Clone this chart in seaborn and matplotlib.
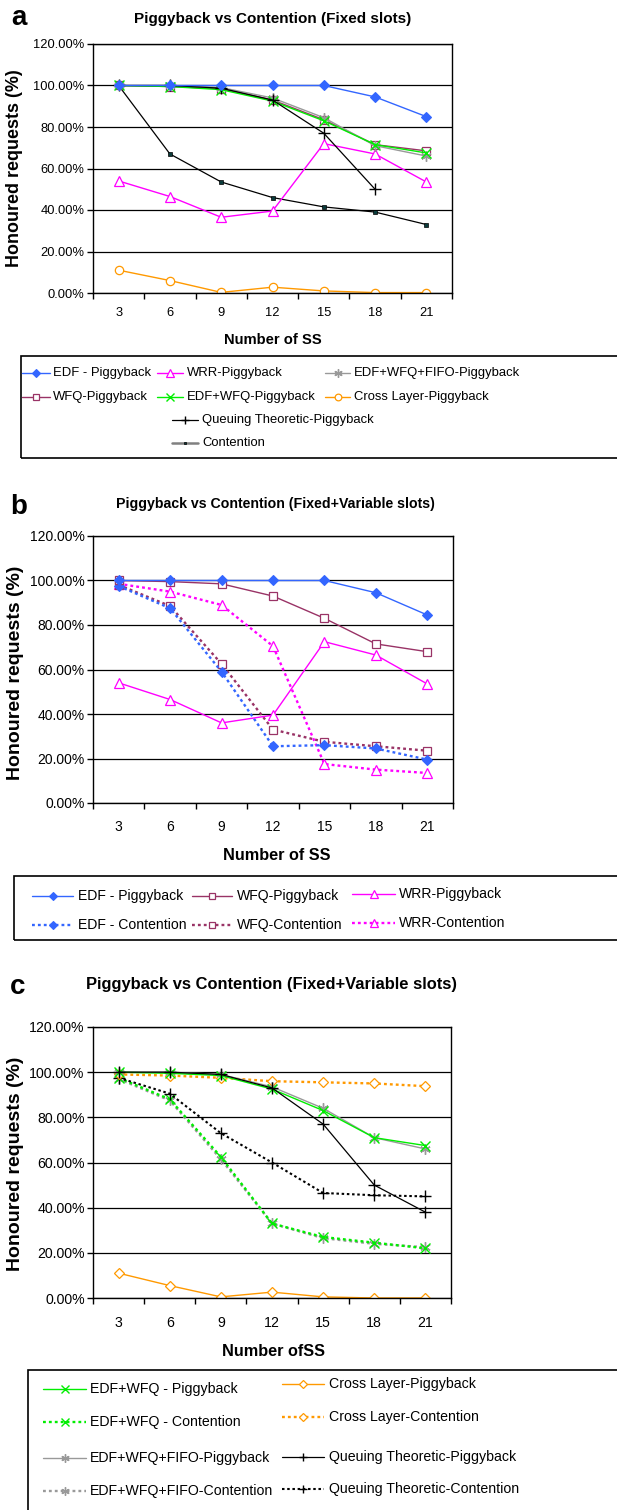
import numpy as np
import matplotlib
matplotlib.use("Agg")
import matplotlib.pyplot as plt
from matplotlib.lines import Line2D
from matplotlib.patches import Rectangle
import seaborn as sns

# ---------------- data ----------------
ss_labels = ["3", "6", "9", "12", "15", "18", "21"]
y_ticks = [0, 20, 40, 60, 80, 100, 120]
y_tick_labels = ["0.00%", "20.00%", "40.00%", "60.00%", "80.00%", "100.00%", "120.00%"]

# Panel a: Piggyback vs Contention (Fixed slots)
a_edf_pb = [100, 100, 100, 100, 100, 94.5, 85]
a_wrr_pb = [54, 46.5, 36.5, 39.5, 72, 67, 53.5]
a_wfq_pb = [100, 99.5, 98.5, 93, 83.5, 71.5, 68.5]
a_edfwfq_pb = [100, 99.5, 98, 92.5, 83, 71.5, 67.5]
a_fifo_pb = [100, 100, 99, 94, 84.5, 71, 66]
a_cross_pb = [11, 6, 0.3, 2.8, 1, 0.2, 0.2]
a_queue_pb = [100, 100, 98.7, 93, 77, 50, np.nan]
a_contention = [100, 67, 53.5, 46, 41.5, 39, 33]

# Panel b: Piggyback vs Contention (Fixed+Variable slots)
b_edf_pb = [100, 100, 100, 100, 100, 94.5, 84.5]
b_wfq_pb = [100, 99.5, 98.5, 93, 83, 71.5, 68]
b_wrr_pb = [54, 46.5, 36, 39.5, 72.5, 66.5, 53.5]
b_edf_ct = [97.5, 87.5, 59, 25.5, 26, 24.5, 19.5]
b_wfq_ct = [98, 88.5, 62.5, 33, 27.5, 25.5, 23.5]
b_wrr_ct = [98.5, 95, 89, 70.5, 17.5, 15, 13.5]

# Panel c: Piggyback vs Contention (Fixed+Variable slots)
c_edfwfq_pb = [100, 99.5, 98.5, 92.5, 83, 71, 67.5]
c_edfwfq_ct = [97.5, 88, 62.5, 33, 27, 24.5, 22]
c_fifo_pb = [100, 100, 99, 93.5, 84, 71, 66]
c_fifo_ct = [97, 87.5, 61.5, 33, 26.5, 24, 22.5]
c_cross_pb = [11, 5.5, 0.5, 2.6, 0.5, 0, 0]
c_cross_ct = [99, 98.5, 97.5, 96, 95.5, 95, 93.8]
c_queue_pb = [100, 100, 99, 93, 77, 50, 38]
c_queue_ct = [97.5, 90.5, 73, 60, 46.5, 45.5, 45]

# ---------------- styles ----------------
BLUE, PLUM, MAG, GREEN, GRAY, ORANGE = "#3366FF", "#993366", "#FF00FF", "#00EE00", "#999999", "#FF9900"
AST = (6, 2, 0)
DOT = (0, (1.2, 1.3))
STY = {
    "EDF - Piggyback": dict(color=BLUE, marker="D", ms=5.5, mfc=BLUE, ls="-", lw=1.0, mew=0.8),
    "WRR-Piggyback": dict(color=MAG, marker="^", ms=7, mfc="white", ls="-", lw=1.0, mew=0.9),
    "WFQ-Piggyback": dict(color=PLUM, marker="s", ms=5.5, mfc="white", ls="-", lw=1.0, mew=0.9),
    "EDF+WFQ-Piggyback": dict(color=GREEN, marker="x", ms=6.5, mfc="none", ls="-", lw=1.0, mew=1.0),
    "EDF+WFQ+FIFO-Piggyback": dict(color=GRAY, marker=AST, ms=7.5, mfc="none", ls="-", lw=1.0, mew=1.0),
    "Cross Layer-Piggyback": dict(color=ORANGE, marker="o", ms=6, mfc="white", ls="-", lw=1.0, mew=0.9),
    "Queuing Theoretic-Piggyback": dict(color="black", marker="+", ms=8, mfc="none", ls="-", lw=0.9, mew=1.0),
    "Contention": dict(color="black", marker="s", ms=2.5, mfc="#0B3B3B", ls="-", lw=0.9, mew=0.5),
    "EDF - Contention": dict(color=BLUE, marker="D", ms=5.5, mfc=BLUE, ls=DOT, lw=1.7, mew=0.8),
    "WFQ-Contention": dict(color=PLUM, marker="s", ms=5.5, mfc="white", ls=DOT, lw=1.7, mew=0.9),
    "WRR-Contention": dict(color=MAG, marker="^", ms=7, mfc="white", ls=DOT, lw=1.7, mew=0.9),
    "EDF+WFQ - Piggyback": dict(color=GREEN, marker="x", ms=6.5, mfc="none", ls="-", lw=1.0, mew=1.0),
    "EDF+WFQ - Contention": dict(color=GREEN, marker="x", ms=6.5, mfc="none", ls=DOT, lw=1.7, mew=1.0),
    "EDF+WFQ+FIFO-Contention": dict(color=GRAY, marker=AST, ms=7.5, mfc="none", ls=DOT, lw=1.7, mew=1.0),
    "Cross Layer-Piggyback c": dict(color=ORANGE, marker="D", ms=5.5, mfc="white", ls="-", lw=1.0, mew=0.9),
    "Cross Layer-Contention": dict(color=ORANGE, marker="D", ms=5.5, mfc="white", ls=DOT, lw=1.7, mew=0.9),
    "Queuing Theoretic-Contention": dict(color="black", marker="+", ms=8, mfc="none", ls=DOT, lw=1.5, mew=1.0),
}

sns.set_style("white")
plt.rcParams["font.family"] = ["Liberation Sans", "DejaVu Sans"]
plt.rcParams["text.color"] = "black"

W, H = 617, 1510
fig = plt.figure(figsize=(W / 100, H / 100), dpi=100)


def fx(x):
    return x / W


def fy(y):
    return 1 - y / H


def make_ax(left, top, right, bottom):
    return fig.add_axes([fx(left), fy(bottom), (right - left) / W, (bottom - top) / H])


def draw(ax, vals, key):
    s = STY[key]
    x = np.arange(len(vals))
    y = np.asarray(vals, dtype=float)
    m = ~np.isnan(y)
    sns.lineplot(x=x[m], y=y[m], ax=ax, color=s["color"], marker=s["marker"],
                 markersize=s["ms"], markerfacecolor=s["mfc"], markeredgecolor=s["color"],
                 markeredgewidth=s["mew"], linestyle=s["ls"], linewidth=s["lw"],
                 legend=False, sort=False, estimator=None)


def setup(ax, tick_fs, xpad):
    ax.set_xlim(-0.5, 6.5)
    ax.set_ylim(0, 120)
    ax.set_xticks(range(7))
    ax.set_xticklabels(ss_labels, fontsize=tick_fs, color="black")
    ax.set_xticks(np.arange(-0.5, 7, 1), minor=True)
    ax.tick_params(axis="x", which="major", length=0, pad=xpad)
    ax.tick_params(axis="x", which="minor", length=4, width=1, direction="out",
                   color="black", bottom=True)
    ax.set_yticks(y_ticks)
    ax.set_yticklabels(y_tick_labels, fontsize=tick_fs, color="black")
    ax.tick_params(axis="y", length=4, width=1, direction="out", pad=2,
                   color="black", left=True)
    ax.grid(axis="y", color="black", lw=0.9)
    ax.grid(axis="x", visible=False)
    ax.set_axisbelow(True)
    for sp in ax.spines.values():
        sp.set_color("black")
        sp.set_linewidth(1)
    ax.set_xlabel("")
    ax.set_ylabel("")


def leg_entry(x0, x1, y, tx, label, fs, key, line_color=None, line_lw=None):
    s = STY[key]
    fig.add_artist(Line2D([fx(x0), fx(x1)], [fy(y), fy(y)], transform=fig.transFigure,
                          color=line_color or s["color"], linestyle=s["ls"],
                          lw=line_lw or s["lw"]))
    fig.add_artist(Line2D([fx((x0 + x1) / 2)], [fy(y)], transform=fig.transFigure,
                          marker=s["marker"], ms=s["ms"] * 0.8, mfc=s["mfc"], mec=s["color"],
                          mew=s["mew"], linestyle="none"))
    fig.text(fx(tx), fy(y), label, fontsize=fs, va="center", ha="left")


def box(x0, y0, x1, y1):
    fig.add_artist(Rectangle((fx(x0), fy(y1)), (x1 - x0) / W, (y1 - y0) / H,
                             transform=fig.transFigure, fill=False, ec="black", lw=1.2,
                             clip_on=False))


# ---------------- panel a ----------------
ax = make_ax(93, 44, 452, 293)
draw(ax, a_contention, "Contention")
draw(ax, a_cross_pb, "Cross Layer-Piggyback")
draw(ax, a_wrr_pb, "WRR-Piggyback")
draw(ax, a_wfq_pb, "WFQ-Piggyback")
draw(ax, a_fifo_pb, "EDF+WFQ+FIFO-Piggyback")
draw(ax, a_edfwfq_pb, "EDF+WFQ-Piggyback")
draw(ax, a_queue_pb, "Queuing Theoretic-Piggyback")
draw(ax, a_edf_pb, "EDF - Piggyback")
setup(ax, 9.3, 10)
fig.text(fx(19), fy(18), "a", fontsize=20, fontweight="bold", ha="center", va="center")
fig.text(fx(273), fy(19), "Piggyback vs Contention (Fixed slots)", fontsize=11,
         fontweight="bold", ha="center", va="center")
fig.text(fx(15), fy(168), "Honoured requests (%)", fontsize=12.9, fontweight="bold",
         rotation=90, ha="center", va="center")
fig.text(fx(273), fy(340), "Number of SS", fontsize=10.6, fontweight="bold",
         ha="center", va="center")
box(21, 356, 640, 458)
fs = 9.4
leg_entry(22, 50, 373, 53, "EDF - Piggyback", fs, "EDF - Piggyback")
leg_entry(157, 183, 373, 187, "WRR-Piggyback", fs, "WRR-Piggyback")
leg_entry(325, 350, 373, 354, "EDF+WFQ+FIFO-Piggyback", fs, "EDF+WFQ+FIFO-Piggyback")
leg_entry(22, 50, 397, 53, "WFQ-Piggyback", fs, "WFQ-Piggyback")
leg_entry(157, 183, 397, 187, "EDF+WFQ-Piggyback", fs, "EDF+WFQ-Piggyback")
leg_entry(325, 350, 397, 354, "Cross Layer-Piggyback", fs, "Cross Layer-Piggyback")
leg_entry(172, 198, 420, 202, "Queuing Theoretic-Piggyback", fs, "Queuing Theoretic-Piggyback")
leg_entry(172, 198, 443, 202, "Contention", fs, "Contention", line_color="#808080", line_lw=1.8)

# ---------------- panel b ----------------
ax = make_ax(93, 536, 453, 803)
draw(ax, b_wrr_ct, "WRR-Contention")
draw(ax, b_wfq_ct, "WFQ-Contention")
draw(ax, b_edf_ct, "EDF - Contention")
draw(ax, b_wrr_pb, "WRR-Piggyback")
draw(ax, b_wfq_pb, "WFQ-Piggyback")
draw(ax, b_edf_pb, "EDF - Piggyback")
setup(ax, 10, 12)
fig.text(fx(19), fy(507), "b", fontsize=20, fontweight="bold", ha="center", va="center")
fig.text(fx(275), fy(504), "Piggyback vs Contention (Fixed+Variable slots)", fontsize=10.2,
         fontweight="bold", ha="center", va="center")
fig.text(fx(16), fy(673), "Honoured requests (%)", fontsize=14, fontweight="bold",
         rotation=90, ha="center", va="center")
fig.text(fx(277), fy(856), "Number of SS", fontsize=11.7, fontweight="bold",
         ha="center", va="center")
box(14, 876, 640, 940)
fs = 10.1
leg_entry(32, 73, 896, 78, "EDF - Piggyback", fs, "EDF - Piggyback")
leg_entry(192, 232, 896, 237, "WFQ-Piggyback", fs, "WFQ-Piggyback")
leg_entry(352, 395, 894, 399, "WRR-Piggyback", fs, "WRR-Piggyback")
leg_entry(32, 73, 925, 78, "EDF - Contention", fs, "EDF - Contention")
leg_entry(192, 232, 925, 237, "WFQ-Contention", fs, "WFQ-Contention")
leg_entry(352, 395, 923, 399, "WRR-Contention", fs, "WRR-Contention")

# ---------------- panel c ----------------
ax = make_ax(93, 1027, 451, 1298)
draw(ax, c_cross_pb, "Cross Layer-Piggyback c")
draw(ax, c_fifo_ct, "EDF+WFQ+FIFO-Contention")
draw(ax, c_edfwfq_ct, "EDF+WFQ - Contention")
draw(ax, c_queue_ct, "Queuing Theoretic-Contention")
draw(ax, c_cross_ct, "Cross Layer-Contention")
draw(ax, c_fifo_pb, "EDF+WFQ+FIFO-Piggyback")
draw(ax, c_edfwfq_pb, "EDF+WFQ - Piggyback")
draw(ax, c_queue_pb, "Queuing Theoretic-Piggyback")
setup(ax, 10.2, 13)
fig.text(fx(18), fy(987), "c", fontsize=20, fontweight="bold", ha="center", va="center")
fig.text(fx(272), fy(984), "Piggyback vs Contention (Fixed+Variable slots)", fontsize=11.9,
         fontweight="bold", ha="center", va="center")
fig.text(fx(16), fy(1164), "Honoured requests (%)", fontsize=14, fontweight="bold",
         rotation=90, ha="center", va="center")
fig.text(fx(273), fy(1352), "Number ofSS", fontsize=11.7, fontweight="bold",
         ha="center", va="center")
box(28, 1370, 640, 1530)
fs = 10.2
leg_entry(43, 86, 1389, 90, "EDF+WFQ - Piggyback", fs, "EDF+WFQ - Piggyback")
leg_entry(43, 86, 1422, 90, "EDF+WFQ - Contention", fs, "EDF+WFQ - Contention")
leg_entry(43, 86, 1458, 90, "EDF+WFQ+FIFO-Piggyback", fs, "EDF+WFQ+FIFO-Piggyback")
leg_entry(43, 86, 1491, 90, "EDF+WFQ+FIFO-Contention", fs, "EDF+WFQ+FIFO-Contention")
leg_entry(282, 324, 1384, 329, "Cross Layer-Piggyback", fs, "Cross Layer-Piggyback c")
leg_entry(282, 324, 1417, 329, "Cross Layer-Contention", fs, "Cross Layer-Contention")
leg_entry(282, 324, 1457, 329, "Queuing Theoretic-Piggyback", fs, "Queuing Theoretic-Piggyback")
leg_entry(282, 324, 1489, 329, "Queuing Theoretic-Contention", fs, "Queuing Theoretic-Contention")

fig.savefig("out.png", dpi=100)
